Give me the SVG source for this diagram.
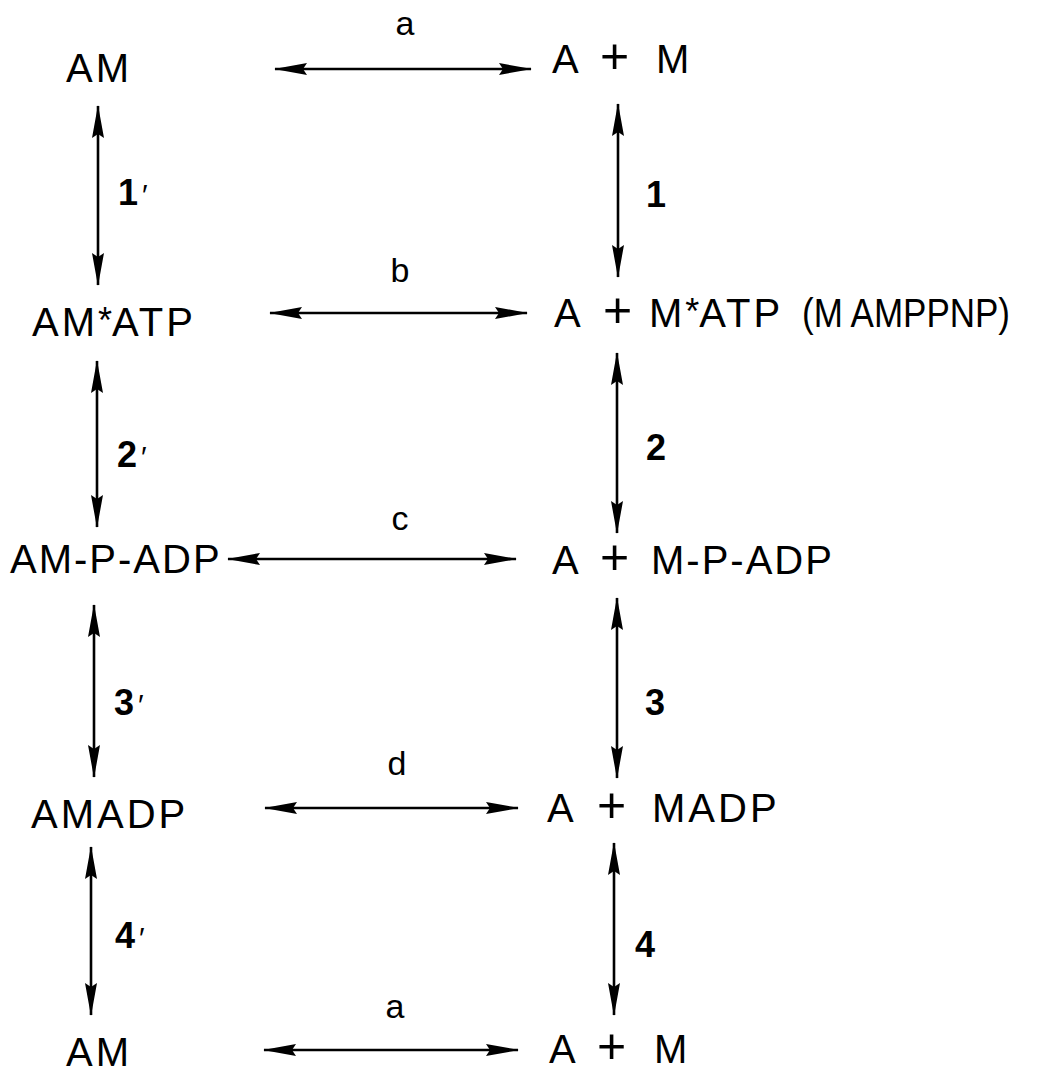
<svg xmlns="http://www.w3.org/2000/svg" width="1041" height="1075" viewBox="0 0 1041 1075">
<style>
.sp{font-family:"Liberation Sans",Arial,sans-serif;font-size:40px;fill:#000;letter-spacing:3px}
.pl{font-size:50px;letter-spacing:0}
.st{font-size:36px;letter-spacing:0}
.lb{font-family:"Liberation Sans",Arial,sans-serif;font-size:34px;fill:#000;text-anchor:middle}
.nb{font-family:"Liberation Sans",Arial,sans-serif;font-size:36px;font-weight:bold;fill:#000}
.pr{font-weight:normal;font-size:30px}
.ar{stroke:#000;stroke-width:2.6;fill:none;marker-start:url(#h);marker-end:url(#h)}
</style>
<defs>
<marker id="h" markerUnits="userSpaceOnUse" markerWidth="34" markerHeight="14" refX="32" refY="7" orient="auto-start-reverse">
<path d="M0,1 L33,7 L0,13 L4,7 z" fill="#000"/>
</marker>
</defs>
<rect width="1041" height="1075" fill="#fff"/>
<g id="connectors">
<line class="ar" x1="275" y1="69" x2="531" y2="69"/>
<line class="ar" x1="270" y1="313" x2="527" y2="313"/>
<line class="ar" x1="228" y1="559" x2="516" y2="559"/>
<line class="ar" x1="265" y1="808" x2="518" y2="808"/>
<line class="ar" x1="264" y1="1050" x2="518" y2="1050"/>
<line class="ar" x1="98" y1="106" x2="98" y2="285"/>
<line class="ar" x1="618" y1="104" x2="618" y2="277"/>
<line class="ar" x1="97" y1="361" x2="97" y2="527"/>
<line class="ar" x1="617" y1="353" x2="617" y2="533"/>
<line class="ar" x1="94" y1="605" x2="94" y2="777"/>
<line class="ar" x1="617" y1="598" x2="617" y2="778"/>
<line class="ar" x1="91" y1="847" x2="91" y2="1015"/>
<line class="ar" x1="614" y1="843" x2="614" y2="1015"/>
<text class="lb" x="405" y="35">a</text>
<text class="lb" x="400" y="282">b</text>
<text class="lb" x="400" y="530">c</text>
<text class="lb" x="397" y="775">d</text>
<text class="lb" x="395" y="1018">a</text>
<text class="nb" x="118" y="205">1<tspan class="pr" dx="4">′</tspan></text>
<text class="nb" x="646" y="207">1</text>
<text class="nb" x="117" y="467">2<tspan class="pr" dx="4">′</tspan></text>
<text class="nb" x="646" y="460">2</text>
<text class="nb" x="114" y="715">3<tspan class="pr" dx="4">′</tspan></text>
<text class="nb" x="645" y="715">3</text>
<text class="nb" x="115" y="948">4<tspan class="pr" dx="4">′</tspan></text>
<text class="nb" x="635" y="957">4</text>
</g>
<g id="n-am-top"><text class="sp" x="66" y="82">AM</text></g>
<g id="n-a-m-top"><text class="sp" x="552" y="73">A<tspan class="pl" x="600">+</tspan><tspan x="656">M</tspan></text></g>
<g id="n-am-atp"><text class="sp" x="32" y="336">AM<tspan class="st" dy="-3">*</tspan><tspan dy="3">ATP</tspan></text></g>
<g id="n-a-m-atp"><text class="sp" x="554" y="327">A<tspan class="pl" x="603">+</tspan><tspan x="649">M</tspan><tspan class="st" dy="-3">*</tspan><tspan dy="3">ATP</tspan></text><text class="sp" x="802" y="327" textLength="208" lengthAdjust="spacingAndGlyphs" style="letter-spacing:0">(M AMPPNP)</text></g>
<g id="n-am-p-adp"><text class="sp" x="10" y="573" style="letter-spacing:2px">AM-P-ADP</text></g>
<g id="n-a-m-p-adp"><text class="sp" x="552" y="574">A<tspan class="pl" x="600">+</tspan><tspan x="651" style="letter-spacing:2px">M-P-ADP</tspan></text></g>
<g id="n-amadp"><text class="sp" x="31" y="828">AMADP</text></g>
<g id="n-a-madp"><text class="sp" x="547" y="822">A<tspan class="pl" x="597">+</tspan><tspan x="652">MADP</tspan></text></g>
<g id="n-am-bottom"><text class="sp" x="66" y="1066">AM</text></g>
<g id="n-a-m-bottom"><text class="sp" x="549" y="1063">A<tspan class="pl" x="597">+</tspan><tspan x="654">M</tspan></text></g>
</svg>
